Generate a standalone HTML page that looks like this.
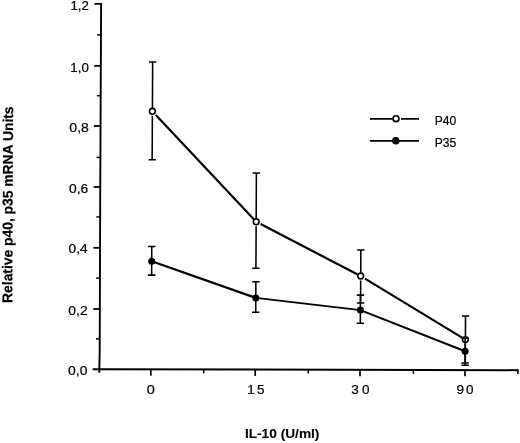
<!DOCTYPE html>
<html><head><meta charset="utf-8"><title>Figure</title>
<style>html,body{margin:0;padding:0;background:#fff}svg{display:block;filter:blur(0.35px)}</style>
</head><body>
<svg width="520" height="443" viewBox="0 0 520 443">
<rect width="520" height="443" fill="#fff"/>
<g stroke="#000" fill="none" stroke-linecap="butt">
<polyline points="101.12,2.9 101.05,20 100.20,200 99.70,350 99.25,372.7" stroke-width="1.9"/>
<line x1="92.6" y1="369.28" x2="518.7" y2="370.15" stroke-width="2"/>
<line x1="94.52" y1="3.85" x2="101.12" y2="3.85" stroke-width="1.8"/>
<line x1="94.23" y1="65.85" x2="100.83" y2="65.85" stroke-width="1.8"/>
<line x1="93.95" y1="126" x2="100.55" y2="126" stroke-width="1.8"/>
<line x1="93.66" y1="187" x2="100.26" y2="187" stroke-width="1.8"/>
<line x1="93.44" y1="247.8" x2="100.04" y2="247.8" stroke-width="1.8"/>
<line x1="93.24" y1="309" x2="99.84" y2="309" stroke-width="1.8"/>
<line x1="97.18" y1="34.9" x2="100.98" y2="34.9" stroke-width="1.5"/>
<line x1="96.89" y1="95.7" x2="100.69" y2="95.7" stroke-width="1.5"/>
<line x1="96.60" y1="157.4" x2="100.40" y2="157.4" stroke-width="1.5"/>
<line x1="96.34" y1="216.9" x2="100.14" y2="216.9" stroke-width="1.5"/>
<line x1="96.14" y1="278.1" x2="99.94" y2="278.1" stroke-width="1.5"/>
<line x1="95.94" y1="338.8" x2="99.74" y2="338.8" stroke-width="1.5"/>
<line x1="150.8" y1="369.40" x2="150.8" y2="375.70" stroke-width="1.7"/>
<line x1="255.2" y1="369.61" x2="255.2" y2="375.91" stroke-width="1.7"/>
<line x1="360.0" y1="369.83" x2="360.0" y2="376.13" stroke-width="1.7"/>
<line x1="465.0" y1="370.04" x2="465.0" y2="376.34" stroke-width="1.7"/>
<line x1="203.7" y1="369.51" x2="203.7" y2="373.31" stroke-width="1.5"/>
<line x1="308.3" y1="369.72" x2="308.3" y2="373.52" stroke-width="1.5"/>
<line x1="413.4" y1="369.94" x2="413.4" y2="373.74" stroke-width="1.5"/>
<line x1="517.85" y1="370.15" x2="517.85" y2="373.95" stroke-width="1.5"/>
<path d="M152.65 62.0L152.16 159.7M148.95 62.0H156.35M148.46 159.7H155.86" stroke-width="1.55"/>
<path d="M256.40 173.0L255.93 268.3M252.70 173.0H260.10M252.23 268.3H259.63" stroke-width="1.55"/>
<path d="M360.83 249.9L360.57 302.9M357.13 249.9H364.53M356.87 302.9H364.27" stroke-width="1.55"/>
<path d="M465.52 315.9L465.27 365.3M461.82 315.9H469.22M461.57 365.3H468.97" stroke-width="1.55"/>
<line x1="155.82" y1="114.94" x2="253.83" y2="219.32" stroke-width="2.2"/>
<line x1="260.60" y1="224.10" x2="357.68" y2="274.48" stroke-width="2.2"/>
<line x1="364.97" y1="278.64" x2="462.49" y2="337.84" stroke-width="2.2"/>
<circle cx="152.4" cy="111.8" r="3.9" fill="#fff" stroke="none"/>
<circle cx="152.4" cy="111.3" r="2.9" fill="#fff" stroke-width="1.6"/>
<circle cx="256.16" cy="222.3" r="3.9" fill="#fff" stroke="none"/>
<circle cx="256.16" cy="221.8" r="2.9" fill="#fff" stroke-width="1.6"/>
<circle cx="360.7" cy="276.55" r="3.9" fill="#fff" stroke="none"/>
<circle cx="360.7" cy="276.05" r="2.9" fill="#fff" stroke-width="1.6"/>
<circle cx="465.4" cy="340.1" r="3.9" fill="#fff" stroke="none"/>
<circle cx="465.4" cy="339.6" r="2.9" fill="#fff" stroke-width="1.6"/>
<path d="M151.77 246.5L151.63 275.1M148.07 246.5H155.47M147.93 275.1H155.33" stroke-width="1.55"/>
<path d="M255.88 281.7L255.73 312.3M252.18 281.7H259.58M252.03 312.3H259.43" stroke-width="1.55"/>
<path d="M360.47 295.1L360.33 323.2M356.77 295.1H364.17M356.63 323.2H364.03" stroke-width="1.55"/>
<path d="M465.17 338.3L465.04 362.9M461.47 338.3H468.87M461.34 362.9H468.74" stroke-width="1.55"/>
<line x1="151.7" y1="261.2" x2="255.8" y2="297.9" stroke-width="2.2"/>
<line x1="255.8" y1="297.9" x2="360.4" y2="310.1" stroke-width="1.75"/>
<line x1="360.4" y1="310.1" x2="465.1" y2="351.3" stroke-width="2.05"/>
<circle cx="151.7" cy="261.2" r="3.5" fill="#000" stroke="none"/>
<circle cx="255.8" cy="297.9" r="3.5" fill="#000" stroke="none"/>
<circle cx="360.4" cy="310.1" r="3.5" fill="#000" stroke="none"/>
<circle cx="465.1" cy="351.3" r="3.5" fill="#000" stroke="none"/>
<path d="M369.9 118.9H392.4M401 118.9H419" stroke-width="1.6"/>
<circle cx="396" cy="118.7" r="2.95" fill="#fff" stroke-width="1.6"/>
<path d="M369.9 140.9H419" stroke-width="1.6"/>
<circle cx="395.8" cy="140.8" r="3.8" fill="#000" stroke="none"/>
</g>
<g font-family="'Liberation Sans', Arial, Helvetica, sans-serif" fill="#000" stroke="#000" stroke-width="0.22" stroke-linejoin="round">
<text transform="translate(70.49,10.10) scale(1.0521,1)" font-size="12.6" font-weight="normal">1,2</text>
<text transform="translate(70.28,71.80) scale(0.9867,1)" font-size="13.5" font-weight="normal">1,0</text>
<text transform="translate(69.35,131.70) scale(1.0444,1)" font-size="13.5" font-weight="normal">0,8</text>
<text transform="translate(69.06,193.30) scale(1.0249,1)" font-size="13.5" font-weight="normal">0,6</text>
<text transform="translate(68.56,253.30) scale(1.0179,1)" font-size="13.5" font-weight="normal">0,4</text>
<text transform="translate(68.36,314.90) scale(1.0276,1)" font-size="13.5" font-weight="normal">0,2</text>
<text transform="translate(68.06,375.05) scale(1.0310,1)" font-size="13.5" font-weight="normal">0,0</text>
<text transform="translate(146.84,393.50) scale(1.0746,1)" font-size="13.5" font-weight="normal">0</text>
<text x="247.26" y="393.50" font-size="13.5" font-weight="normal" letter-spacing="2.18">15</text>
<text x="351.37" y="393.70" font-size="13.5" font-weight="normal" letter-spacing="3.14">30</text>
<text x="456.47" y="393.90" font-size="13.5" font-weight="normal" letter-spacing="2.14">90</text>
<text transform="translate(434.73,124.90) scale(0.9172,1)" font-size="13.2" font-weight="normal">P40</text>
<text transform="translate(434.63,146.90) scale(0.9172,1)" font-size="13.2" font-weight="normal">P35</text>
<text stroke-width="0.1" transform="translate(244.89,438.20) scale(1.0003,1)" font-size="13.7" font-weight="bold">IL-10 (U/ml)</text>
<text transform="translate(12.2,302.2) rotate(-89.76) translate(-0.72,0.00) scale(0.9765,1)" font-size="14.2" font-weight="bold">Relative p40, p35 mRNA Units</text>
</g>
</svg>
</body></html>
